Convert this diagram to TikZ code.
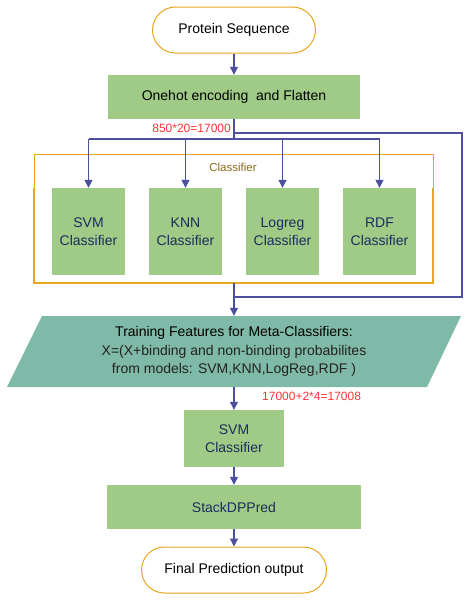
\documentclass[tikz,border=0pt]{standalone}
\usepackage{fontspec}
\setmainfont{Liberation Sans}
\usetikzlibrary{arrows.meta}
\definecolor{gfill}{HTML}{9FCB86}
\definecolor{tfill}{HTML}{7FB9A8}
\definecolor{obord}{HTML}{E8A51E}
\definecolor{lblue}{HTML}{4B4F9C}
\definecolor{navy}{HTML}{1E2B5E}
\definecolor{lred}{HTML}{FF3535}
\definecolor{gbrown}{HTML}{8B6A1A}
\tikzset{
  term/.style={draw=obord, line width=1pt, fill=white, rounded corners=23pt, minimum height=46pt, inner sep=0pt, font=\fontsize{14}{17}\selectfont, text=black},
  gbox/.style={fill=gfill, inner sep=0pt, font=\fontsize{14}{18}\selectfont, text=navy, align=center},
  conn/.style={draw=lblue, line width=1.3pt},
  arr/.style={conn, -{Triangle[length=8pt,width=8pt]}},
  redlbl/.style={text=lred, font=\fontsize{12}{14}\selectfont, inner sep=0pt}
}
\begin{document}
\begin{tikzpicture}[x=1pt,y=-1pt]
\useasboundingbox (0,0) rectangle (471,600);

% group box
\coordinate (gTL) at (34,154);
\coordinate (gML) at (34,188);
\coordinate (gBL) at (34,283);
\coordinate (gBR) at (433,283);
\coordinate (gMR) at (433,188);
\coordinate (gTR) at (433,154);
\coordinate (gbot) at (234,283);
\draw[obord, line width=0.9pt] (gML) -- (gTL) -- (gTR) -- (gMR);
\draw[obord, line width=1.6pt] (gML) -- (gBL) -- (gBR) -- (gMR);
\node[text=gbrown, font=\fontsize{11.5}{13}\selectfont] (glabel) at (233,167) {Classifier};

% nodes
\node[term, minimum width=163pt] (prot) at (234,30) {Protein Sequence};
\node[gbox, minimum width=252pt, minimum height=44pt, text=black] (onehot) at (234,97) {Onehot encoding\ \ and Flatten};
\node[gbox, minimum width=73pt, minimum height=87pt] (svm) at (88.5,231.5) {SVM\\Classifier};
\node[gbox, minimum width=73pt, minimum height=87pt] (knn) at (185.5,231.5) {KNN\\Classifier};
\node[gbox, minimum width=73pt, minimum height=87pt] (logreg) at (282.5,231.5) {Logreg\\Classifier};
\node[gbox, minimum width=73pt, minimum height=87pt] (rdf) at (379.5,231.5) {RDF\\Classifier};

% parallelogram
\fill[tfill] (42,316) -- (461,316) -- (427,387) -- (7,387) -- cycle;
\node[minimum width=420pt, minimum height=71pt, inner sep=0pt, align=center, font=\fontsize{14}{18.5}\selectfont] (feat) at (234,351.5)
  {\textcolor{black}{Training Features for Meta-Classifiers:}\\\textcolor[HTML]{222222}{X=(X+binding and non-binding probabilites}\\\textcolor[HTML]{222222}{from models: SVM,KNN,LogReg,RDF )}};

\node[gbox, minimum width=100pt, minimum height=57pt] (svm2) at (234,438.5) {SVM\\Classifier};
\node[gbox, minimum width=254pt, minimum height=44pt] (stack) at (234,507) {StackDPPred};
\node[term, minimum width=185pt] (final) at (234,570) {Final Prediction output};

% labels
\node[redlbl, anchor=east] (lab1) at (231,128) {850*20=17000};
\node[redlbl, anchor=west] (lab2) at (262,396) {17000+2*4=17008};

% coordinates
\coordinate (split) at (234,139);
\coordinate (fbA) at (234,133);
\coordinate (fbB) at (462,133);
\coordinate (fbC) at (462,297);
\coordinate (merge) at (234,297);

% connectors
\draw[arr] (prot) -- (onehot);
\draw[conn] (onehot.south) -- (split);
\draw[conn] (split -| svm) -- (split -| rdf);
\draw[arr] (split -| svm) -- (svm.north);
\draw[arr] (split -| knn) -- (knn.north);
\draw[arr] (split -| logreg) -- (logreg.north);
\draw[arr] (split -| rdf) -- (rdf.north);
\draw[conn] (fbA) -- (fbB) -- (fbC) -- (merge);
\draw[conn] (gbot) -- (merge);
\draw[arr] (merge) -- (feat.north);
\draw[arr] (feat.south) -- (svm2.north);
\draw[arr] (svm2) -- (stack);
\draw[arr] (stack) -- (final);
\end{tikzpicture}
\end{document}
